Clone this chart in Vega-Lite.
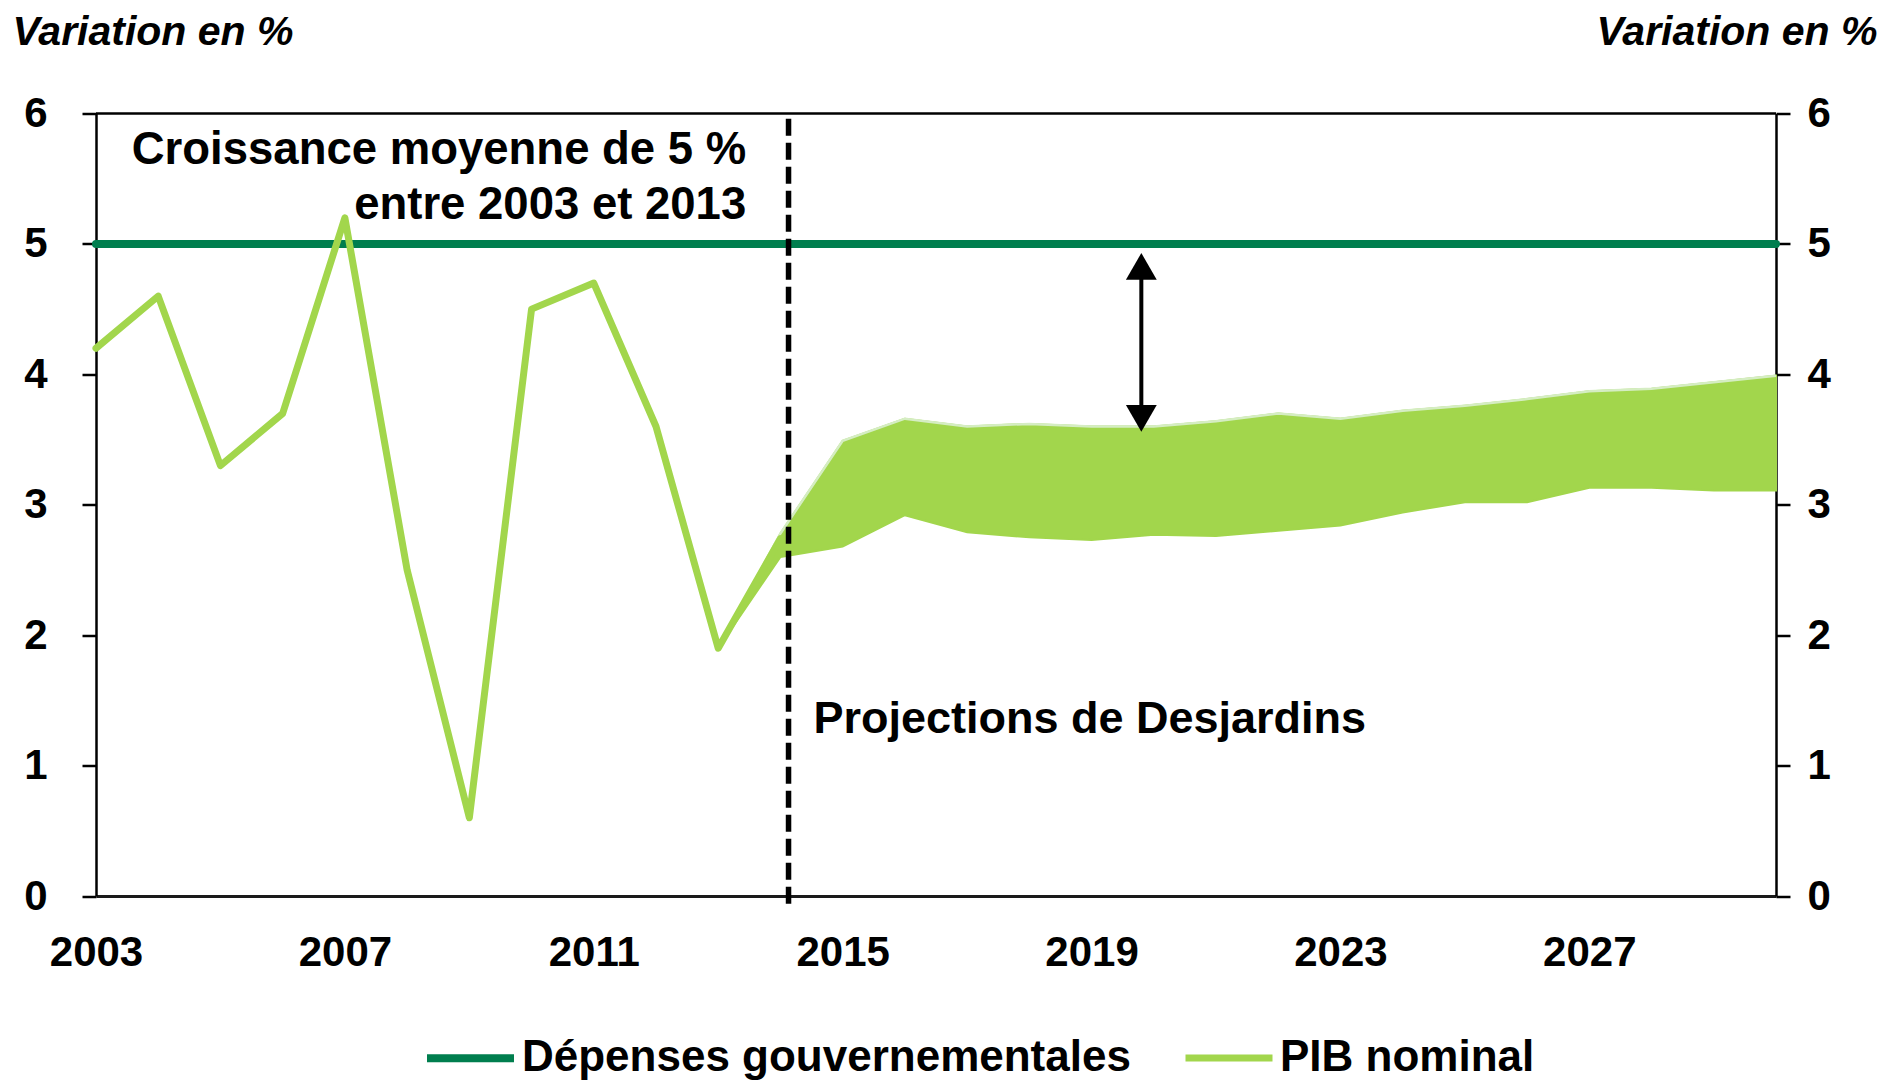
{
  "$schema": "https://vega.github.io/schema/vega-lite/v6.json",
  "width": 1680,
  "height": 782.5,
  "autosize": {"type": "none"},
  "padding": {"left": 96, "top": 113.5, "right": 107, "bottom": 185},
  "background": "white",
  "config": {"view": {"stroke": null}, "font": "Liberation Sans"},
  "datasets": {
    "lines": [
      {"year": 2003, "series": "Dépenses gouvernementales", "value": 5},
      {"year": 2004, "series": "Dépenses gouvernementales", "value": 5},
      {"year": 2005, "series": "Dépenses gouvernementales", "value": 5},
      {"year": 2006, "series": "Dépenses gouvernementales", "value": 5},
      {"year": 2007, "series": "Dépenses gouvernementales", "value": 5},
      {"year": 2008, "series": "Dépenses gouvernementales", "value": 5},
      {"year": 2009, "series": "Dépenses gouvernementales", "value": 5},
      {"year": 2010, "series": "Dépenses gouvernementales", "value": 5},
      {"year": 2011, "series": "Dépenses gouvernementales", "value": 5},
      {"year": 2012, "series": "Dépenses gouvernementales", "value": 5},
      {"year": 2013, "series": "Dépenses gouvernementales", "value": 5},
      {"year": 2014, "series": "Dépenses gouvernementales", "value": 5},
      {"year": 2015, "series": "Dépenses gouvernementales", "value": 5},
      {"year": 2016, "series": "Dépenses gouvernementales", "value": 5},
      {"year": 2017, "series": "Dépenses gouvernementales", "value": 5},
      {"year": 2018, "series": "Dépenses gouvernementales", "value": 5},
      {"year": 2019, "series": "Dépenses gouvernementales", "value": 5},
      {"year": 2020, "series": "Dépenses gouvernementales", "value": 5},
      {"year": 2021, "series": "Dépenses gouvernementales", "value": 5},
      {"year": 2022, "series": "Dépenses gouvernementales", "value": 5},
      {"year": 2023, "series": "Dépenses gouvernementales", "value": 5},
      {"year": 2024, "series": "Dépenses gouvernementales", "value": 5},
      {"year": 2025, "series": "Dépenses gouvernementales", "value": 5},
      {"year": 2026, "series": "Dépenses gouvernementales", "value": 5},
      {"year": 2027, "series": "Dépenses gouvernementales", "value": 5},
      {"year": 2028, "series": "Dépenses gouvernementales", "value": 5},
      {"year": 2029, "series": "Dépenses gouvernementales", "value": 5},
      {"year": 2030, "series": "Dépenses gouvernementales", "value": 5},
      {"year": 2003, "series": "PIB nominal", "value": 4.2},
      {"year": 2004, "series": "PIB nominal", "value": 4.6},
      {"year": 2005, "series": "PIB nominal", "value": 3.3},
      {"year": 2006, "series": "PIB nominal", "value": 3.7},
      {"year": 2007, "series": "PIB nominal", "value": 5.2},
      {"year": 2008, "series": "PIB nominal", "value": 2.5},
      {"year": 2009, "series": "PIB nominal", "value": 0.6},
      {"year": 2010, "series": "PIB nominal", "value": 4.5},
      {"year": 2011, "series": "PIB nominal", "value": 4.7},
      {"year": 2012, "series": "PIB nominal", "value": 3.6},
      {"year": 2013, "series": "PIB nominal", "value": 1.9},
      {"year": 2014, "series": "PIB nominal", "value": 2.74}
    ],
    "band": [
      {"year": 2013, "low": 1.9, "high": 1.9},
      {"year": 2014, "low": 2.6, "high": 2.78},
      {"year": 2015, "low": 2.68, "high": 3.49},
      {"year": 2016, "low": 2.92, "high": 3.66},
      {"year": 2017, "low": 2.79, "high": 3.6},
      {"year": 2018, "low": 2.75, "high": 3.62},
      {"year": 2019, "low": 2.73, "high": 3.6},
      {"year": 2020, "low": 2.77, "high": 3.6},
      {"year": 2021, "low": 2.76, "high": 3.64},
      {"year": 2022, "low": 2.8, "high": 3.7},
      {"year": 2023, "low": 2.84, "high": 3.66},
      {"year": 2024, "low": 2.94, "high": 3.72},
      {"year": 2025, "low": 3.02, "high": 3.76},
      {"year": 2026, "low": 3.02, "high": 3.81},
      {"year": 2027, "low": 3.13, "high": 3.87},
      {"year": 2028, "low": 3.13, "high": 3.89},
      {"year": 2029, "low": 3.11, "high": 3.94},
      {"year": 2030, "low": 3.11, "high": 3.99}
    ],
    "marker": [{"x": 2014.13, "y": -0.06, "y2": 6}],
    "shaft": [{"x": 2019.8, "y": 3.75, "y2": 4.75}],
    "heads": [
      {"x": 2019.8, "y": 4.828, "dir": "up"},
      {"x": 2019.8, "y": 3.662, "dir": "down"}
    ],
    "notes": [
      {"x": 2013.45, "y": 5.61, "label": "Croissance moyenne de 5 %", "side": "right"},
      {"x": 2013.45, "y": 5.19, "label": "entre 2003 et 2013", "side": "right"},
      {"x": 2014.53, "y": 1.25, "label": "Projections de Desjardins", "side": "left"}
    ],
    "frame": [{"x": 2003, "x2": 2030, "y": 6}]
  },
  "layer": [
    {
      "layer": [
        {
          "data": {"name": "band"},
          "mark": {"type": "area", "color": "#A2D64C", "stroke": "#A2D64C", "strokeWidth": 2},
          "encoding": {
            "x": {
              "field": "year", "type": "quantitative",
              "scale": {"domain": [2003, 2030], "nice": false, "zero": false},
              "axis": {
                "values": [2003, 2007, 2011, 2015, 2019, 2023, 2027],
                "format": "d", "title": null, "ticks": false, "grid": false,
                "domainColor": "#1a1a1a", "domainWidth": 3,
                "labelFontSize": 42, "labelFontWeight": "bold", "labelColor": "black",
                "labelFont": "Liberation Sans", "labelPadding": 36,
                "labelFlush": false, "labelOverlap": false, "labelBound": false
              }
            },
            "y": {
              "field": "low", "type": "quantitative",
              "scale": {"domain": [0, 6], "nice": false},
              "axis": {
                "orient": "left", "values": [0, 1, 2, 3, 4, 5, 6], "format": "d", "grid": false,
                "domainColor": "black", "domainWidth": 2.5,
                "tickColor": "black", "tickWidth": 2.5, "tickSize": 14,
                "labelFontSize": 42, "labelFontWeight": "bold", "labelColor": "black",
                "labelFont": "Liberation Sans", "labelPadding": 35,
                "title": "Variation en %", "titleAngle": 0, "titleX": -84, "titleY": -69,
                "titleAlign": "left", "titleBaseline": "alphabetic",
                "titleFontSize": 41, "titleFontWeight": "bold", "titleFontStyle": "italic",
                "titleColor": "black", "titleFont": "Liberation Sans"
              }
            },
            "y2": {"field": "high"}
          }
        },
        {
          "data": {"name": "band"},
          "mark": {"type": "line", "color": "#D5EDC3", "strokeWidth": 2.5},
          "encoding": {
            "x": {"field": "year", "type": "quantitative"},
            "y": {"field": "high", "type": "quantitative"}
          }
        },
        {
          "data": {"name": "lines"},
          "mark": {"type": "line", "strokeCap": "round", "strokeJoin": "round"},
          "encoding": {
            "x": {"field": "year", "type": "quantitative"},
            "y": {"field": "value", "type": "quantitative"},
            "color": {
              "field": "series", "type": "nominal",
              "scale": {"domain": ["Dépenses gouvernementales", "PIB nominal"], "range": ["#007E4E", "#A2D64C"]},
              "legend": {
                "orient": "none", "legendX": 327, "legendY": 897, "direction": "horizontal",
                "title": null, "symbolType": "stroke", "symbolSize": 7569, "symbolStrokeWidth": 8,
                "labelFontSize": 44, "labelFont": "Liberation Sans", "labelFontWeight": "bold",
                "labelColor": "black", "labelOffset": 4, "columnPadding": 40, "padding": 0,
                "labelLimit": 0
              }
            },
            "strokeWidth": {
              "field": "series", "type": "nominal",
              "scale": {"domain": ["Dépenses gouvernementales", "PIB nominal"], "range": [8, 7]},
              "legend": null
            }
          }
        },
        {
          "data": {"name": "marker"},
          "mark": {"type": "rule", "color": "black", "strokeWidth": 5.5, "strokeDash": [17, 7]},
          "encoding": {
            "x": {"field": "x", "type": "quantitative"},
            "y": {"field": "y", "type": "quantitative"},
            "y2": {"field": "y2"}
          }
        },
        {
          "data": {"name": "shaft"},
          "mark": {"type": "rule", "color": "black", "strokeWidth": 4},
          "encoding": {
            "x": {"field": "x", "type": "quantitative"},
            "y": {"field": "y", "type": "quantitative"},
            "y2": {"field": "y2"}
          }
        },
        {
          "data": {"name": "heads"},
          "mark": {"type": "point", "filled": true, "color": "black", "opacity": 1, "size": 950, "strokeWidth": 0},
          "encoding": {
            "x": {"field": "x", "type": "quantitative"},
            "y": {"field": "y", "type": "quantitative"},
            "shape": {
              "field": "dir", "type": "nominal",
              "scale": {"domain": ["up", "down"], "range": ["triangle-up", "triangle-down"]},
              "legend": null
            }
          }
        },
        {
          "data": {"name": "notes"},
          "transform": [{"filter": "datum.side === 'right'"}],
          "mark": {"type": "text", "align": "right", "baseline": "alphabetic", "fontSize": 45.5, "fontWeight": "bold", "font": "Liberation Sans", "color": "black"},
          "encoding": {
            "x": {"field": "x", "type": "quantitative"},
            "y": {"field": "y", "type": "quantitative"},
            "text": {"field": "label"}
          }
        },
        {
          "data": {"name": "notes"},
          "transform": [{"filter": "datum.side === 'left'"}],
          "mark": {"type": "text", "align": "left", "baseline": "alphabetic", "fontSize": 45, "fontWeight": "bold", "font": "Liberation Sans", "color": "black"},
          "encoding": {
            "x": {"field": "x", "type": "quantitative"},
            "y": {"field": "y", "type": "quantitative"},
            "text": {"field": "label"}
          }
        }
      ]
    },
    {
      "data": {"name": "frame"},
      "mark": {"type": "rule", "color": "black", "strokeWidth": 2.5},
      "encoding": {
        "x": {"field": "x", "type": "quantitative"},
        "x2": {"field": "x2"},
        "y": {
          "field": "y", "type": "quantitative",
          "scale": {"domain": [0, 6], "nice": false},
          "axis": {
            "orient": "right", "values": [0, 1, 2, 3, 4, 5, 6], "format": "d", "grid": false,
            "domainColor": "black", "domainWidth": 2.5,
            "tickColor": "black", "tickWidth": 2.5, "tickSize": 14,
            "labelFontSize": 42, "labelFontWeight": "bold", "labelColor": "black",
            "labelFont": "Liberation Sans", "labelPadding": 17,
            "title": "Variation en %", "titleAngle": 0, "titleX": 101, "titleY": -69,
            "titleAlign": "right", "titleBaseline": "alphabetic",
            "titleFontSize": 41, "titleFontWeight": "bold", "titleFontStyle": "italic",
            "titleColor": "black", "titleFont": "Liberation Sans"
          }
        }
      }
    }
  ],
  "resolve": {"scale": {"y": "independent"}}
}
